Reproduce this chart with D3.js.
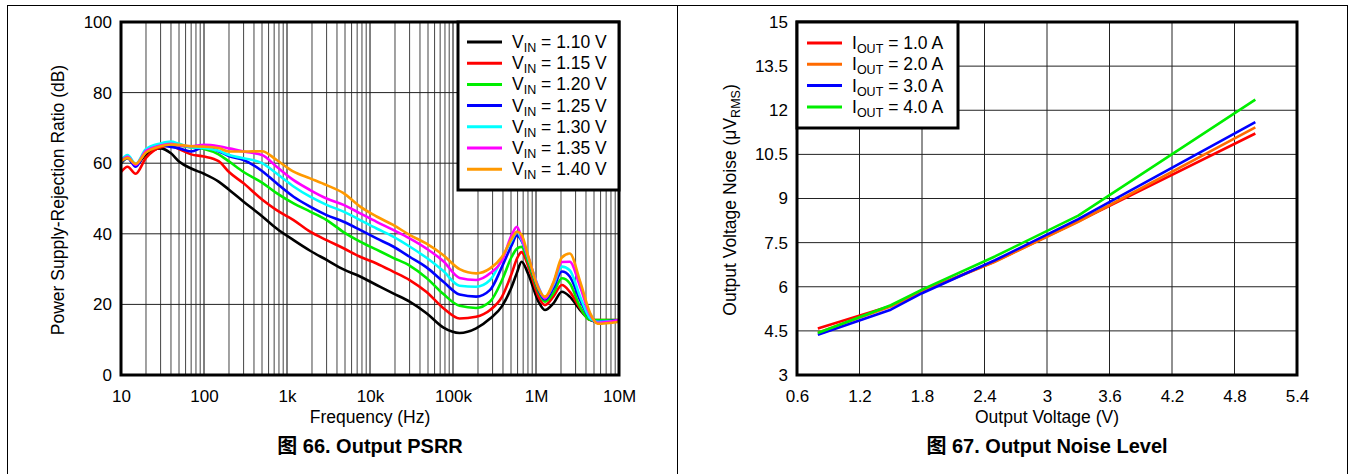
<!DOCTYPE html>
<html>
<head>
<meta charset="utf-8">
<script src="https://cdn.jsdelivr.net/npm/d3@7"></script>
<style>
body { margin: 0; background: #fff; }
text { font-family: Arial, "Liberation Sans", "Noto Sans CJK SC", sans-serif; fill: #000; }
</style>
</head>
<body>
<svg id="chart" width="1351" height="474"></svg>
<script>
// ---- PSRR (left chart) ----
var freqs = [10, 12, 15, 20, 30, 40, 50, 70, 100, 150, 200, 300, 500, 750, 1200, 1900, 3000, 4800, 7600,
    12000, 19000, 30000, 48000, 76000, 120000, 190000, 280000, 390000, 510000, 590000, 670000, 810000,
    1070000, 1280000, 1620000, 2050000, 2550000, 3400000, 4500000, 5500000, 10000000];

var psrr110 = [60, 61.5, 59.5, 62.5, 64.2, 62.8, 60.5, 58.5, 57, 54.8, 52.5, 49.1, 45, 41.5, 38.2, 35.2, 32.6, 29.9, 27.9,
    25.5, 23.1, 20.8, 17.5, 13.5, 11.9, 13.2, 16, 19.5, 25, 29, 32.1, 28.5,
    20.8, 18.4, 20.3, 23.6, 22.2, 18.4, 15.6, 15.1, 15.1];
var psrr115 = [57.5, 59, 57, 61.5, 64.5, 65, 64, 62.5, 61.9, 60.6, 57.5, 54.3, 49.7, 46.7, 43.9, 40.6, 38.2, 35.9, 33.5,
    31.6, 29.3, 26.9, 23.5, 19, 16, 16.5, 18.4, 22.2, 28.8, 33, 34.8, 30.7,
    22.2, 19.8, 22.2, 25.5, 23.6, 18.9, 15.6, 15.6, 15.6];
var psrr120 = [60.3, 61.5, 59.5, 63.5, 65, 65.2, 65, 64.5, 64, 62.5, 60.5, 57.5, 54.5, 51.5, 48.6, 46.3, 43.9, 40.5, 37.8,
    35.5, 33.2, 31, 27.5, 23, 19.6, 19, 20.8, 26.9, 33.5, 35.8, 36.3, 31.8,
    23.6, 20.8, 23.2, 27.4, 26, 19.3, 15.6, 15.6, 15.6];
var psrr125 = [60.3, 61.5, 59, 63.5, 65, 64.6, 64.2, 63.3, 64.5, 63.4, 62, 60.9, 57.8, 54.3, 50.5, 47.7, 45.3, 43.4, 41.1,
    38.7, 36.4, 33.5, 30.5, 26.5, 22.8, 22.2, 24.1, 30.7, 36.8, 39.5, 38, 33,
    24.2, 21.4, 24.6, 29.3, 27.9, 21.2, 16, 15.1, 15.5];
var psrr130 = [60.8, 62.3, 59.8, 64, 65.6, 66.1, 65.5, 64.5, 64.3, 63.5, 62.3, 61.4, 60, 57.1, 53.4, 50.5, 48.2, 46.3, 43.9,
    41.5, 39.2, 36.4, 33.2, 29.5, 25.3, 25, 26.9, 33, 38.2, 40.6, 38.3, 33,
    25, 21.8, 25.5, 30.7, 29.7, 22.2, 16, 15.1, 15.3];
var psrr135 = [60.5, 61.8, 59.5, 63.5, 65, 65.5, 65, 64.8, 65.2, 64.8, 64.2, 63.3, 62.3, 59, 55.2, 52.4, 50, 48.2, 45.8,
    43.4, 41.1, 38.7, 35.8, 32.3, 27.5, 26.9, 28.8, 32.5, 39.7, 42, 38.8, 33.3,
    24.8, 21.7, 26, 32, 32.1, 25, 17, 14.8, 15.6];
var psrr140 = [60.5, 61.5, 59.8, 63, 64.8, 65.3, 65.2, 64.8, 64.7, 64.3, 63.3, 63.3, 63.4, 60.9, 57.6, 55.7, 53.8, 51.5, 47.7,
    44.9, 42.5, 39.7, 37.2, 34, 30, 28.8, 30.2, 33.5, 38.6, 40.6, 39.7, 33.5,
    24.5, 22.2, 26.3, 33.3, 34.4, 26.5, 17.5, 14.5, 15.1];

var vinLabels = ["1.10", "1.15", "1.20", "1.25", "1.30", "1.35", "1.40"];
var vinColors = ["#000000", "#ff0000", "#00ee00", "#0000ff", "#00ffff", "#ff00ff", "#ff9900"];
var freqTicks = [10, 100, 1000, 10000, 100000, 1000000, 10000000];
var freqTickLabels = ["10", "100", "1k", "10k", "100k", "1M", "10M"];
var dbTicks = [0, 20, 40, 60, 80, 100];

// ---- Output noise (right chart) ----
var vout = [0.8, 1.5, 1.8, 2.5, 3.3, 5.0];
var noise1A = [4.58, 5.35, 5.85, 6.86, 8.22, 11.21];
var noise2A = [4.44, 5.33, 5.84, 6.85, 8.21, 11.42];
var noise3A = [4.37, 5.22, 5.78, 6.9, 8.3, 11.6];
var noise4A = [4.43, 5.37, 5.9, 7.03, 8.42, 12.36];

var ioutLabels = ["1.0", "2.0", "3.0", "4.0"];
var ioutColors = ["#ff0000", "#ff6a00", "#0000ff", "#00ee00"];
var voutTicks = [0.6, 1.2, 1.8, 2.4, 3, 3.6, 4.2, 4.8, 5.4];
var noiseTicks = [3, 4.5, 6, 7.5, 9, 10.5, 12, 13.5, 15];

var svg = d3.select("#chart");

// outer frame and divider
svg.append("rect").attr("x", 7.5).attr("y", 5.5).attr("width", 1340).attr("height", 480)
    .attr("fill", "none").attr("stroke", "#000").attr("stroke-width", 1);
svg.append("line").attr("x1", 677.5).attr("x2", 677.5).attr("y1", 5).attr("y2", 474)
    .attr("stroke", "#000").attr("stroke-width", 1);

// ================= left chart =================
var L = { left: 121, right: 619, top: 22, bottom: 375 };
var xF = d3.scaleLog().domain([10, 1e7]).range([L.left, L.right]);
var yDb = d3.scaleLinear().domain([0, 100]).range([L.bottom, L.top]);

var gl = svg.append("g");

// log grid
gl.append("g").selectAll("line")
    .data(xF.ticks())
    .enter().append("line")
    .attr("x1", function(d) { return xF(d); })
    .attr("x2", function(d) { return xF(d); })
    .attr("y1", L.top).attr("y2", L.bottom)
    .attr("stroke", function(d) { return freqTicks.indexOf(d) >= 0 ? "#000" : "#444"; })
    .attr("stroke-width", 1);
gl.append("g").selectAll("line")
    .data(dbTicks)
    .enter().append("line")
    .attr("x1", L.left).attr("x2", L.right)
    .attr("y1", function(d) { return yDb(d); })
    .attr("y2", function(d) { return yDb(d); })
    .attr("stroke", "#222").attr("stroke-width", 1);

var lineL = d3.line()
    .x(function(d) { return xF(d[0]); })
    .y(function(d) { return yDb(d[1]); })
    .curve(d3.curveMonotoneX);

var psrrSeries = [psrr110, psrr115, psrr120, psrr125, psrr130, psrr135, psrr140];
psrrSeries.forEach(function(vals, i) {
    gl.append("path")
        .datum(freqs.map(function(f, k) { return [f, vals[k]]; }))
        .attr("fill", "none")
        .attr("stroke", vinColors[i])
        .attr("stroke-width", 2.6)
        .attr("stroke-linejoin", "round")
        .attr("d", lineL);
});

// axes
var axLb = gl.append("g").attr("transform", "translate(0," + L.bottom + ")")
    .call(d3.axisBottom(xF).tickValues(freqTicks)
        .tickFormat(function(d, i) { return freqTickLabels[i]; })
        .tickSize(0).tickPadding(15));
var axLl = gl.append("g").attr("transform", "translate(" + L.left + ",0)")
    .call(d3.axisLeft(yDb).tickValues(dbTicks).tickSize(0).tickPadding(9));
[axLb, axLl].forEach(function(a) {
    a.select(".domain").remove();
    a.selectAll("text").attr("font-size", 17).attr("font-family", null);
});

// plot frame
gl.append("rect").attr("x", L.left).attr("y", L.top)
    .attr("width", L.right - L.left).attr("height", L.bottom - L.top)
    .attr("fill", "none").attr("stroke", "#000").attr("stroke-width", 3);

// legend
var legL = gl.append("g");
legL.append("rect").attr("x", 458).attr("y", L.top).attr("width", L.right - 458).attr("height", 190 - L.top)
    .attr("fill", "#fff").attr("stroke", "#000").attr("stroke-width", 3);
vinLabels.forEach(function(lab, i) {
    var yy = 42 + i * 21.2;
    legL.append("line").attr("x1", 467).attr("x2", 502).attr("y1", yy).attr("y2", yy)
        .attr("stroke", vinColors[i]).attr("stroke-width", 3);
    var t = legL.append("text").attr("x", 512).attr("y", yy + 6).attr("font-size", 17.5);
    t.append("tspan").text("V");
    t.append("tspan").text("IN").attr("font-size", 12.5).attr("dy", 4);
    t.append("tspan").text(" = " + lab + " V").attr("dy", -4);
});

// titles
gl.append("text").attr("x", (L.left + L.right) / 2).attr("y", 423)
    .attr("text-anchor", "middle").attr("font-size", 17.5).text("Frequency (Hz)");
gl.append("text").attr("transform", "translate(64," + 200 + ") rotate(-90)")
    .attr("text-anchor", "middle").attr("font-size", 17.5).text("Power Supply-Rejection Ratio (dB)");
gl.append("text").attr("x", (L.left + L.right) / 2).attr("y", 453)
    .attr("text-anchor", "middle").attr("font-size", 20).attr("font-weight", "bold")
    .text("图 66. Output PSRR");

// ================= right chart =================
var R = { left: 797, right: 1297, top: 22, bottom: 375 };
var xV = d3.scaleLinear().domain([0.6, 5.4]).range([R.left, R.right]);
var yN = d3.scaleLinear().domain([3, 15]).range([R.bottom, R.top]);

var gr = svg.append("g");

gr.append("g").selectAll("line")
    .data(voutTicks)
    .enter().append("line")
    .attr("x1", function(d) { return xV(d); })
    .attr("x2", function(d) { return xV(d); })
    .attr("y1", R.top).attr("y2", R.bottom)
    .attr("stroke", "#222").attr("stroke-width", 1);
gr.append("g").selectAll("line")
    .data(noiseTicks)
    .enter().append("line")
    .attr("x1", R.left).attr("x2", R.right)
    .attr("y1", function(d) { return yN(d); })
    .attr("y2", function(d) { return yN(d); })
    .attr("stroke", "#222").attr("stroke-width", 1);

var lineR = d3.line()
    .x(function(d) { return xV(d[0]); })
    .y(function(d) { return yN(d[1]); });

[noise1A, noise2A, noise3A, noise4A].forEach(function(vals, i) {
    gr.append("path")
        .datum(vout.map(function(v, k) { return [v, vals[k]]; }))
        .attr("fill", "none")
        .attr("stroke", ioutColors[i])
        .attr("stroke-width", 2.6)
        .attr("stroke-linejoin", "round")
        .attr("d", lineR);
});

var axRb = gr.append("g").attr("transform", "translate(0," + R.bottom + ")")
    .call(d3.axisBottom(xV).tickValues(voutTicks).tickFormat(d3.format("~g"))
        .tickSize(0).tickPadding(15));
var axRl = gr.append("g").attr("transform", "translate(" + R.left + ",0)")
    .call(d3.axisLeft(yN).tickValues(noiseTicks).tickFormat(d3.format("~g"))
        .tickSize(0).tickPadding(9));
[axRb, axRl].forEach(function(a) {
    a.select(".domain").remove();
    a.selectAll("text").attr("font-size", 17).attr("font-family", null);
});

gr.append("rect").attr("x", R.left).attr("y", R.top)
    .attr("width", R.right - R.left).attr("height", R.bottom - R.top)
    .attr("fill", "none").attr("stroke", "#000").attr("stroke-width", 3);

var legR = gr.append("g");
legR.append("rect").attr("x", R.left).attr("y", R.top).attr("width", 958 - R.left).attr("height", 128 - R.top)
    .attr("fill", "#fff").attr("stroke", "#000").attr("stroke-width", 3);
ioutLabels.forEach(function(lab, i) {
    var yy = 43 + i * 21.3;
    legR.append("line").attr("x1", 807).attr("x2", 842).attr("y1", yy).attr("y2", yy)
        .attr("stroke", ioutColors[i]).attr("stroke-width", 3);
    var t = legR.append("text").attr("x", 852).attr("y", yy + 6).attr("font-size", 17.5);
    t.append("tspan").text("I");
    t.append("tspan").text("OUT").attr("font-size", 12.5).attr("dy", 4);
    t.append("tspan").text(" = " + lab + " A").attr("dy", -4);
});

gr.append("text").attr("x", (R.left + R.right) / 2).attr("y", 423)
    .attr("text-anchor", "middle").attr("font-size", 17.5).text("Output Voltage (V)");
var ty = gr.append("text").attr("transform", "translate(736,200) rotate(-90)")
    .attr("text-anchor", "middle").attr("font-size", 17.5);
ty.append("tspan").text("Output Voltage Noise (\u03bcV");
ty.append("tspan").text("RMS").attr("font-size", 12.5).attr("dy", 4);
ty.append("tspan").text(")").attr("dy", -4);
gr.append("text").attr("x", (R.left + R.right) / 2).attr("y", 453)
    .attr("text-anchor", "middle").attr("font-size", 20).attr("font-weight", "bold")
    .text("图 67. Output Noise Level");
</script>
</body>
</html>
